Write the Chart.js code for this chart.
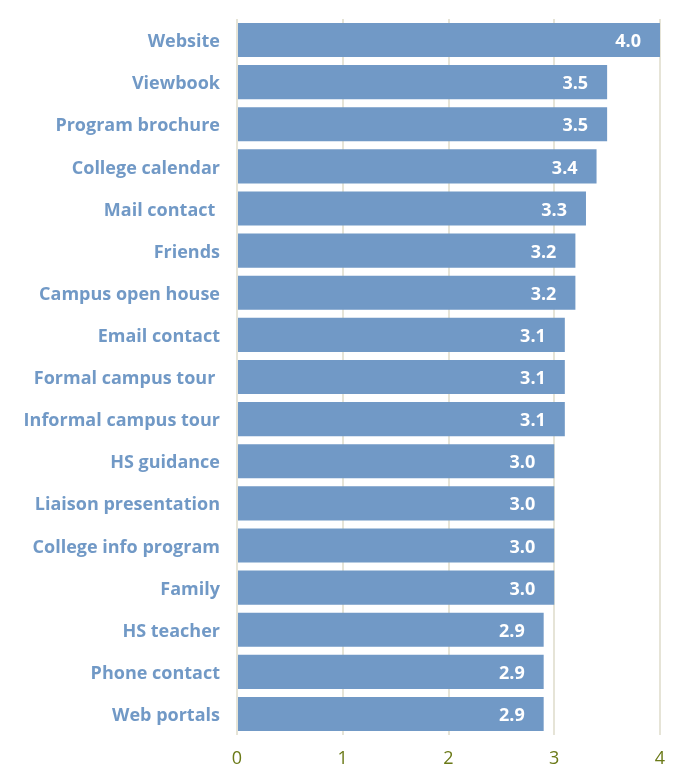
<html>
<head>
    <script src="https://cdn.jsdelivr.net/npm/chart.js@4.4.3/dist/chart.umd.min.js"></script>
    <style>
        body { margin: 0; background: #fff; }
        #wrap { width: 689px; height: 767px; }
    </style>
</head>
<body>
    <div id="wrap"><canvas id="mychart"></canvas></div>
    <script>
        // categories and mean scores
        labels = ["Website", "Viewbook", "Program brochure", "College calendar", "Mail contact ",
            "Friends", "Campus open house", "Email contact", "Formal campus tour ", "Informal campus tour",
            "HS guidance", "Liaison presentation", "College info program", "Family", "HS teacher",
            "Phone contact", "Web portals"];
        scores = [4.0, 3.5, 3.5, 3.4, 3.3, 3.2, 3.2, 3.1, 3.1, 3.1, 3.0, 3.0, 3.0, 3.0, 2.9, 2.9, 2.9];
        xTicks = [0, 1, 2, 3, 4];

        barBlue = '#7199c6';
        fontName = "'Open Sans', sans-serif";

        // white value labels at the end of each bar
        valueLabels = {
            id: 'valueLabels',
            afterDatasetsDraw(chart) {
                ctx = chart.ctx;
                meta = chart.getDatasetMeta(0);
                ctx.save();
                ctx.fillStyle = '#fff';
                ctx.font = "bold 18px " + fontName;
                ctx.textAlign = 'right';
                ctx.textBaseline = 'middle';
                meta.data.forEach(function (bar, i) {
                    ctx.fillText(scores[i].toFixed(1), bar.x - 19, bar.y + 2);
                });
                ctx.restore();
            }
        };

        new Chart(document.querySelector("#mychart"), {
            type: 'bar',
            data: {
                labels: labels,
                datasets: [{
                    data: scores,
                    backgroundColor: barBlue,
                    borderWidth: 0,
                    barPercentage: 0.81,
                    categoryPercentage: 1
                }]
            },
            options: {
                indexAxis: 'y',
                responsive: true,
                maintainAspectRatio: false,
                animation: false,
                layout: { padding: { top: 19, right: 29, left: 0, bottom: 0 } },
                plugins: { legend: { display: false }, tooltip: { enabled: false } },
                scales: {
                    x: {
                        min: 0, max: 4,
                        afterBuildTicks: function (s) { s.ticks = xTicks.map(function (v) { return { value: v }; }); },
                        afterFit: function (s) { s.height = 32; s.paddingLeft = 0; s.paddingRight = 0; },
                        grid: { color: '#e6e4d7', lineWidth: 2, drawTicks: false },
                        border: { display: false },
                        ticks: { color: '#6b7a18', padding: 13, font: { family: fontName, size: 18 } }
                    },
                    y: {
                        afterFit: function (s) { s.width = 237; s.paddingTop = 0; s.paddingBottom = 0; },
                        grid: { display: false, drawTicks: false },
                        border: { display: false },
                        ticks: { color: barBlue, padding: 17, labelOffset: 2, font: { family: fontName, size: 18, weight: 'bold' } }
                    }
                }
            },
            plugins: [valueLabels]
        });
    </script>
</body>
</html>
